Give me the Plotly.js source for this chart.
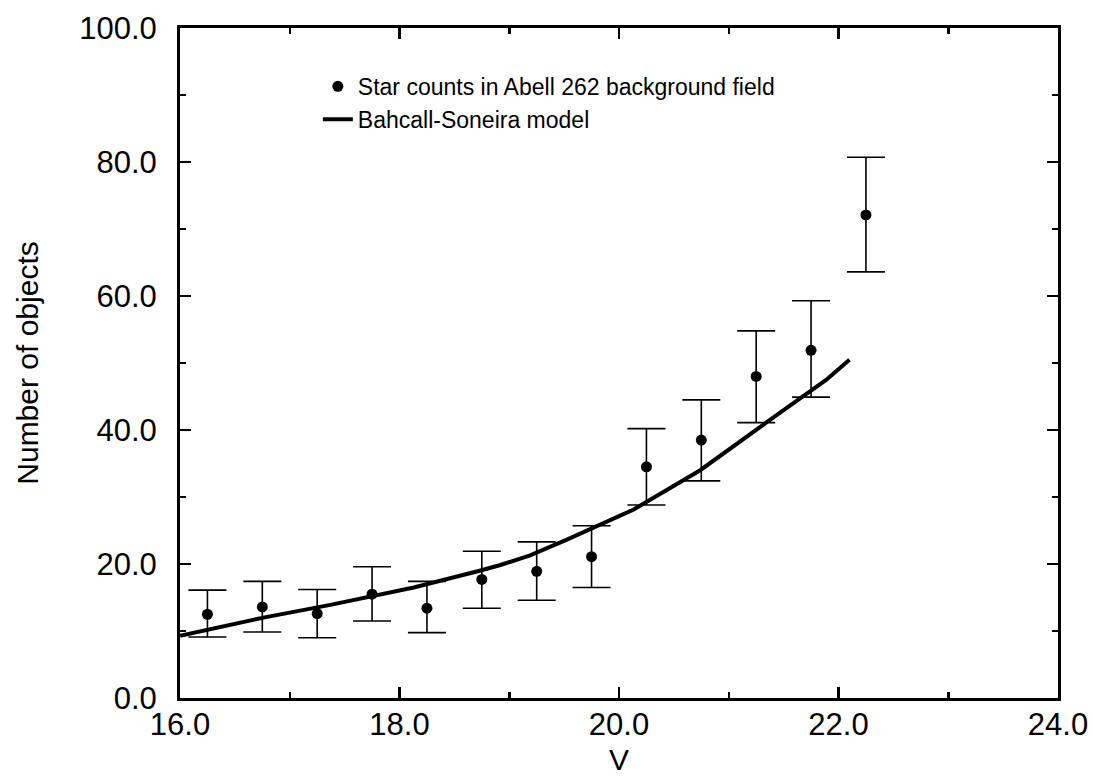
<!DOCTYPE html>
<html>
<head>
<meta charset="utf-8">
<script src="https://cdn.plot.ly/plotly-3.0.1.min.js"></script>
<style>
  html, body { margin: 0; padding: 0; background: #fff; }
  #chart { width: 1093px; height: 781px; }
</style>
</head>
<body>
<div id="chart"></div>
<script>
// Star counts (points with asymmetric error bars)
const magV = [16.25, 16.75, 17.25, 17.75, 18.25, 18.75, 19.25, 19.75, 20.25, 20.75, 21.25, 21.75, 22.25];
const starCounts = [12.5, 13.6, 12.6, 15.5, 13.4, 17.7, 18.9, 21.1, 34.5, 38.5, 48.0, 51.9, 72.1];
const errPlus  = [3.6, 3.8, 3.6, 4.1, 4.0, 4.2, 4.4, 4.6, 5.7, 6.0, 6.8, 7.4, 8.6];
const errMinus = [3.4, 3.75, 3.6, 4.0, 3.65, 4.3, 4.3, 4.6, 5.7, 6.1, 6.9, 7.0, 8.5];

// Bahcall-Soneira model curve
const modelV = [16.0, 16.76, 17.37, 18.13, 18.73, 18.92, 19.19, 19.52, 20.13, 20.74, 21.35, 21.89, 22.1];
const modelN = [9.3, 12.0, 13.9, 16.5, 19.0, 19.85, 21.3, 23.6, 28.1, 34.0, 41.2, 47.5, 50.5];

const labelPoints = 'Star counts in Abell 262 background field';
const labelModel = 'Bahcall-Soneira model';

const FONT = 'Liberation Sans, Arial, Helvetica, sans-serif';

const traces = [
  {
    x: magV, y: starCounts, type: 'scatter', mode: 'markers', name: labelPoints,
    marker: { color: '#000', size: 11 },
    error_y: { type: 'data', symmetric: false, array: errPlus, arrayminus: errMinus,
               color: '#000', thickness: 1.6, width: 19 }
  },
  {
    x: modelV, y: modelN, type: 'scatter', mode: 'lines', name: labelModel,
    line: { color: '#000', width: 4 }
  }
];

const axisCommon = {
  showgrid: false, zeroline: false,
  showline: true, linecolor: '#000', linewidth: 3,
  mirror: 'ticks', ticks: 'inside', tickcolor: '#000', tickwidth: 2.5, ticklen: 11,
  tickfont: { family: FONT, size: 31, color: '#000' },
  tickformat: '.1f'
};

const layout = {
  width: 1093, height: 781,
  margin: { l: 180, r: 35, t: 28, b: 83, pad: 0 },
  paper_bgcolor: '#fff', plot_bgcolor: '#fff',
  font: { family: FONT, color: '#000' },
  showlegend: true,
  legend: {
    x: 0.157, y: 0.945, xanchor: 'left', yanchor: 'top',
    bgcolor: 'rgba(0,0,0,0)', borderwidth: 0,
    font: { family: FONT, size: 23, color: '#000' }
  },
  xaxis: Object.assign({}, axisCommon, {
    range: [16, 24], dtick: 2, tick0: 16,
    minor: { dtick: 1, ticks: 'inside', ticklen: 6, tickwidth: 2.5, tickcolor: '#000' },
    ticklabelstandoff: -3,
    title: { text: 'V', font: { family: FONT, size: 30, color: '#000' }, standoff: 8 }
  }),
  yaxis: Object.assign({}, axisCommon, {
    range: [0, 100], dtick: 20, tick0: 0,
    minor: { dtick: 10, ticks: 'inside', ticklen: 6, tickwidth: 2.5, tickcolor: '#000' },
    ticklabelstandoff: 14,
    title: { text: 'Number of objects', font: { family: FONT, size: 30, color: '#000' }, standoff: 32 }
  })
};

Plotly.newPlot('chart', traces, layout, { staticPlot: true, displayModeBar: false });
</script>
</body>
</html>
